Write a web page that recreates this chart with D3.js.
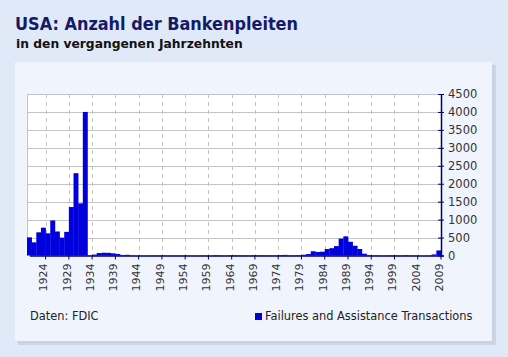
<!DOCTYPE html>
<html><head><meta charset="utf-8">
<script src="https://cdn.jsdelivr.net/npm/d3@7"></script>
<style>
html,body{margin:0;padding:0;background:#dfe9f8;}
svg{display:block;}
text{font-family:"DejaVu Sans",Verdana,sans-serif;}
</style></head>
<body>
<svg id="c" width="508" height="357"></svg>
<script>
const title = "USA: Anzahl der Bankenpleiten";
const subtitle = "in den vergangenen Jahrzehnten";
const source = "Daten: FDIC";
const seriesName = "Failures and Assistance Transactions";
const years = d3.range(1921, 2010);
const values = [
  506, 366, 646, 775, 618, 976, 669, 498, 659, 1350, 2293, 1453, 4000,
  9, 26, 69, 77, 74, 60, 43, 15, 20, 5, 2, 1, 1, 5, 3, 5,
  4, 2, 3, 4, 2, 5, 2, 1, 4, 3, 1, 9, 3, 2, 8, 9, 8, 4, 3, 9,
  7, 7, 3, 6, 4, 14, 17, 6, 7, 10, 22, 40, 119, 99, 106, 180, 204, 262, 470, 534,
  382, 271, 181, 50, 15, 8, 6, 1, 3, 8, 7, 4, 11, 3, 4, 0, 0, 3, 30, 140
];
const yTicks = d3.range(0, 4501, 500);
const xTickYears = d3.range(1924, 2010, 5);

const svg = d3.select("#c");
// panel shadow + panel
svg.append("rect").attr("x",18).attr("y",65).attr("width",478).attr("height",280).attr("fill","#b9c3d3").attr("opacity",0.5);
svg.append("rect").attr("x",17).attr("y",64).attr("width",477).attr("height",279).attr("fill","#c8d1df").attr("opacity",0.6);
svg.append("rect").attr("x",15).attr("y",62).attr("width",477).attr("height",279).attr("fill","#f0f5fd");

svg.append("text").attr("x",15).attr("y",30).attr("font-size",17.5).attr("font-weight","bold").attr("fill","#141a66")
  .attr("textLength",283).attr("lengthAdjust","spacingAndGlyphs").text(title);
svg.append("text").attr("x",16).attr("y",48).attr("font-size",12.3).attr("font-weight","bold").attr("fill","#111").text(subtitle);

const L = 27, R = 441, T = 94, B = 255.5;
const x = d3.scaleBand().domain(years).range([L, R]).padding(0);
const y = d3.scaleLinear().domain([0, 4500]).range([B, T]);

svg.append("rect").attr("x",L).attr("y",T).attr("width",R-L).attr("height",B-T).attr("fill","#fff");

// horizontal grid
svg.append("g").selectAll("line").data(yTicks.filter(d=>d>0)).join("line")
  .attr("x1",L).attr("x2",R).attr("y1",d=>Math.round(y(d))+0.5).attr("y2",d=>Math.round(y(d))+0.5)
  .attr("stroke","#c4c4c4").attr("stroke-width",1);
// vertical dashed grid
svg.append("g").selectAll("line").data(xTickYears.filter(d=>d<2009)).join("line")
  .attr("x1",d=>Math.round(x(d)+x.bandwidth())+0.5).attr("x2",d=>Math.round(x(d)+x.bandwidth())+0.5)
  .attr("y1",T).attr("y2",B).attr("stroke","#c4c4c4").attr("stroke-dasharray","4,4");
// left border
svg.append("line").attr("x1",L+0.5).attr("x2",L+0.5).attr("y1",T).attr("y2",B).attr("stroke","#c4c4c4");

// bars
svg.append("g").selectAll("rect").data(years).join("rect")
  .attr("x",d=>x(d)).attr("width",x.bandwidth()+0.3)
  .attr("y",(d,i)=>y(values[i])).attr("height",(d,i)=>B-y(values[i]))
  .attr("fill","#0000dd");

// bottom axis
const xAxis = d3.axisBottom(x).tickValues(xTickYears).tickSize(4).tickSizeOuter(0);
const gx = svg.append("g").attr("transform",`translate(${x.bandwidth()/2},${B})`).call(xAxis);
gx.select(".domain").attr("stroke","#000066").attr("stroke-width",1.5);
gx.selectAll(".tick line").attr("stroke","#000066");
gx.selectAll(".tick text").attr("font-size",11).attr("fill","#333")
  .attr("font-family","DejaVu Sans, sans-serif")
  .attr("transform","rotate(-90)").attr("text-anchor","end")
  .attr("x",-8).attr("y",-2).attr("dy","0.35em");

// right axis
const yAxis = d3.axisRight(y).tickValues(yTicks).tickFormat(d3.format("d")).tickSize(3).tickSizeOuter(0).tickPadding(4);
const gy = svg.append("g").attr("transform",`translate(${R},0)`).call(yAxis);
gy.select(".domain").attr("stroke","#000066").attr("stroke-width",1.5);
gy.selectAll(".tick line").attr("stroke","#000066").attr("x1",-3);
gy.selectAll(".tick text").attr("font-size",11.5).attr("fill","#333").attr("font-family","DejaVu Sans, sans-serif");

// footer
svg.append("text").attr("x",30).attr("y",320).attr("font-size",11.4).attr("fill","#222").text(source);
svg.append("rect").attr("x",255).attr("y",313).attr("width",7).attr("height",7).attr("fill","#0000dd");
svg.append("text").attr("x",265).attr("y",320).attr("font-size",11.4).attr("fill","#222").text(seriesName);
</script>
</body></html>
